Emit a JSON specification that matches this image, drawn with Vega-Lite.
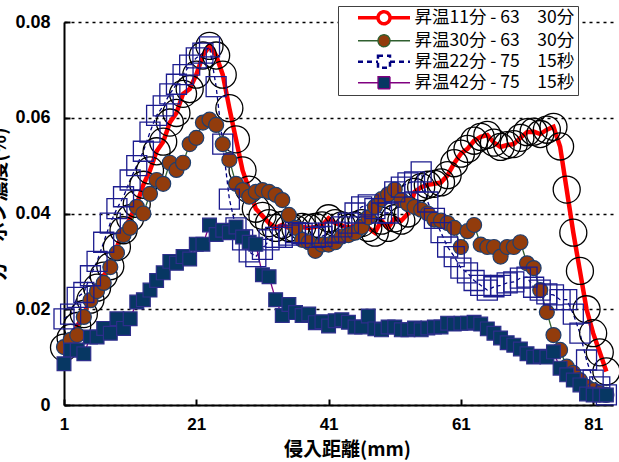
{
"$schema": "https://vega.github.io/schema/vega-lite/v6.json",
"width": 549,
"height": 383,
"autosize": {"type": "none"},
"padding": {"left": 64, "top": 22, "right": 6, "bottom": 57},
"background": "#ffffff",
"config": {
 "view": {"stroke": null},
 "axis": {
  "domainColor": "#000000", "domainWidth": 2,
  "tickColor": "#000000", "tickWidth": 2, "tickSize": -6,
  "labelFont": "Liberation Sans", "labelFontWeight": "bold", "labelFontSize": 18, "labelColor": "#000000",
  "labelFlush": false, "labelOverlap": false,
  "titleFont": "Noto Sans CJK JP", "titleFontWeight": "bold", "titleFontSize": 20, "titleColor": "#000000"
 }
},
"data": {"values": [
{"s":"昇温11分 - 63　30分","x":1,"y":0.012},{"s":"昇温11分 - 63　30分","x":2,"y":0.014},{"s":"昇温11分 - 63　30分","x":3,"y":0.0165},{"s":"昇温11分 - 63　30分","x":4,"y":0.019},{"s":"昇温11分 - 63　30分","x":5,"y":0.022},{"s":"昇温11分 - 63　30分","x":6,"y":0.0245},{"s":"昇温11分 - 63　30分","x":7,"y":0.027},{"s":"昇温11分 - 63　30分","x":8,"y":0.029},{"s":"昇温11分 - 63　30分","x":9,"y":0.033},{"s":"昇温11分 - 63　30分","x":10,"y":0.0365},
{"s":"昇温11分 - 63　30分","x":11,"y":0.039},{"s":"昇温11分 - 63　30分","x":12,"y":0.042},{"s":"昇温11分 - 63　30分","x":13,"y":0.046},{"s":"昇温11分 - 63　30分","x":14,"y":0.049},{"s":"昇温11分 - 63　30分","x":15,"y":0.053},{"s":"昇温11分 - 63　30分","x":16,"y":0.055},{"s":"昇温11分 - 63　30分","x":17,"y":0.059},{"s":"昇温11分 - 63　30分","x":18,"y":0.061},{"s":"昇温11分 - 63　30分","x":19,"y":0.065},{"s":"昇温11分 - 63　30分","x":20,"y":0.066},
{"s":"昇温11分 - 63　30分","x":21,"y":0.069},{"s":"昇温11分 - 63　30分","x":22,"y":0.073},{"s":"昇温11分 - 63　30分","x":23,"y":0.075},{"s":"昇温11分 - 63　30分","x":24,"y":0.073},{"s":"昇温11分 - 63　30分","x":25,"y":0.069},{"s":"昇温11分 - 63　30分","x":26,"y":0.062},{"s":"昇温11分 - 63　30分","x":27,"y":0.0555},{"s":"昇温11分 - 63　30分","x":28,"y":0.049},{"s":"昇温11分 - 63　30分","x":29,"y":0.045},{"s":"昇温11分 - 63　30分","x":30,"y":0.041},
{"s":"昇温11分 - 63　30分","x":31,"y":0.0395},{"s":"昇温11分 - 63　30分","x":32,"y":0.038},{"s":"昇温11分 - 63　30分","x":33,"y":0.037},{"s":"昇温11分 - 63　30分","x":34,"y":0.0376},{"s":"昇温11分 - 63　30分","x":35,"y":0.037},{"s":"昇温11分 - 63　30分","x":36,"y":0.0368},{"s":"昇温11分 - 63　30分","x":37,"y":0.0372},{"s":"昇温11分 - 63　30分","x":38,"y":0.037},{"s":"昇温11分 - 63　30分","x":39,"y":0.0372},{"s":"昇温11分 - 63　30分","x":40,"y":0.0375},
{"s":"昇温11分 - 63　30分","x":41,"y":0.039},{"s":"昇温11分 - 63　30分","x":42,"y":0.038},{"s":"昇温11分 - 63　30分","x":43,"y":0.0375},{"s":"昇温11分 - 63　30分","x":44,"y":0.037},{"s":"昇温11分 - 63　30分","x":45,"y":0.0375},{"s":"昇温11分 - 63　30分","x":46,"y":0.038},{"s":"昇温11分 - 63　30分","x":47,"y":0.037},{"s":"昇温11分 - 63　30分","x":48,"y":0.036},{"s":"昇温11分 - 63　30分","x":49,"y":0.0385},{"s":"昇温11分 - 63　30分","x":50,"y":0.037},
{"s":"昇温11分 - 63　30分","x":51,"y":0.039},{"s":"昇温11分 - 63　30分","x":52,"y":0.0385},{"s":"昇温11分 - 63　30分","x":53,"y":0.04},{"s":"昇温11分 - 63　30分","x":54,"y":0.0445},{"s":"昇温11分 - 63　30分","x":55,"y":0.0455},{"s":"昇温11分 - 63　30分","x":56,"y":0.046},{"s":"昇温11分 - 63　30分","x":57,"y":0.0462},{"s":"昇温11分 - 63　30分","x":58,"y":0.0465},{"s":"昇温11分 - 63　30分","x":59,"y":0.048},{"s":"昇温11分 - 63　30分","x":60,"y":0.0505},
{"s":"昇温11分 - 63　30分","x":61,"y":0.0525},{"s":"昇温11分 - 63　30分","x":62,"y":0.0535},{"s":"昇温11分 - 63　30分","x":63,"y":0.0552},{"s":"昇温11分 - 63　30分","x":64,"y":0.056},{"s":"昇温11分 - 63　30分","x":65,"y":0.0564},{"s":"昇温11分 - 63　30分","x":66,"y":0.0548},{"s":"昇温11分 - 63　30分","x":67,"y":0.0539},{"s":"昇温11分 - 63　30分","x":68,"y":0.0543},{"s":"昇温11分 - 63　30分","x":69,"y":0.0545},{"s":"昇温11分 - 63　30分","x":70,"y":0.0558},
{"s":"昇温11分 - 63　30分","x":71,"y":0.057},{"s":"昇温11分 - 63　30分","x":72,"y":0.0571},{"s":"昇温11分 - 63　30分","x":73,"y":0.0566},{"s":"昇温11分 - 63　30分","x":74,"y":0.0575},{"s":"昇温11分 - 63　30分","x":75,"y":0.0581},{"s":"昇温11分 - 63　30分","x":76,"y":0.054},{"s":"昇温11分 - 63　30分","x":77,"y":0.045},{"s":"昇温11分 - 63　30分","x":78,"y":0.036},{"s":"昇温11分 - 63　30分","x":79,"y":0.028},{"s":"昇温11分 - 63　30分","x":80,"y":0.02},
{"s":"昇温11分 - 63　30分","x":81,"y":0.015},{"s":"昇温11分 - 63　30分","x":82,"y":0.011},{"s":"昇温11分 - 63　30分","x":83,"y":0.007},
{"s":"昇温30分 - 63　30分","x":1,"y":0.0121},{"s":"昇温30分 - 63　30分","x":2,"y":0.0136},{"s":"昇温30分 - 63　30分","x":3,"y":0.0146},{"s":"昇温30分 - 63　30分","x":4,"y":0.0184},{"s":"昇温30分 - 63　30分","x":5,"y":0.0219},{"s":"昇温30分 - 63　30分","x":6,"y":0.0238},{"s":"昇温30分 - 63　30分","x":7,"y":0.0255},{"s":"昇温30分 - 63　30分","x":8,"y":0.0288},{"s":"昇温30分 - 63　30分","x":9,"y":0.0318},{"s":"昇温30分 - 63　30分","x":10,"y":0.0355},
{"s":"昇温30分 - 63　30分","x":11,"y":0.037},{"s":"昇温30分 - 63　30分","x":12,"y":0.0414},{"s":"昇温30分 - 63　30分","x":13,"y":0.04},{"s":"昇温30分 - 63　30分","x":14,"y":0.0441},{"s":"昇温30分 - 63　30分","x":15,"y":0.047},{"s":"昇温30分 - 63　30分","x":16,"y":0.0462},{"s":"昇温30分 - 63　30分","x":17,"y":0.0506},{"s":"昇温30分 - 63　30分","x":18,"y":0.0491},{"s":"昇温30分 - 63　30分","x":19,"y":0.0506},{"s":"昇温30分 - 63　30分","x":20,"y":0.0545},
{"s":"昇温30分 - 63　30分","x":21,"y":0.0558},{"s":"昇温30分 - 63　30分","x":22,"y":0.059},{"s":"昇温30分 - 63　30分","x":23,"y":0.0596},{"s":"昇温30分 - 63　30分","x":24,"y":0.0585},{"s":"昇温30分 - 63　30分","x":25,"y":0.0545},{"s":"昇温30分 - 63　30分","x":26,"y":0.0512},{"s":"昇温30分 - 63　30分","x":27,"y":0.0462},{"s":"昇温30分 - 63　30分","x":28,"y":0.0449},{"s":"昇温30分 - 63　30分","x":29,"y":0.0435},{"s":"昇温30分 - 63　30分","x":30,"y":0.0445},
{"s":"昇温30分 - 63　30分","x":31,"y":0.0449},{"s":"昇温30分 - 63　30分","x":32,"y":0.0445},{"s":"昇温30分 - 63　30分","x":33,"y":0.0439},{"s":"昇温30分 - 63　30分","x":34,"y":0.0428},{"s":"昇温30分 - 63　30分","x":35,"y":0.0397},{"s":"昇温30分 - 63　30分","x":36,"y":0.037},{"s":"昇温30分 - 63　30分","x":37,"y":0.0345},{"s":"昇温30分 - 63　30分","x":38,"y":0.034},{"s":"昇温30分 - 63　30分","x":39,"y":0.0322},{"s":"昇温30分 - 63　30分","x":40,"y":0.0335},
{"s":"昇温30分 - 63　30分","x":41,"y":0.0335},{"s":"昇温30分 - 63　30分","x":42,"y":0.034},{"s":"昇温30分 - 63　30分","x":43,"y":0.0352},{"s":"昇温30分 - 63　30分","x":44,"y":0.0355},{"s":"昇温30分 - 63　30分","x":45,"y":0.036},{"s":"昇温30分 - 63　30分","x":46,"y":0.0372},{"s":"昇温30分 - 63　30分","x":47,"y":0.0392},{"s":"昇温30分 - 63　30分","x":48,"y":0.0414},{"s":"昇温30分 - 63　30分","x":49,"y":0.043},{"s":"昇温30分 - 63　30分","x":50,"y":0.044},
{"s":"昇温30分 - 63　30分","x":51,"y":0.045},{"s":"昇温30分 - 63　30分","x":52,"y":0.0428},{"s":"昇温30分 - 63　30分","x":53,"y":0.042},{"s":"昇温30分 - 63　30分","x":54,"y":0.0414},{"s":"昇温30分 - 63　30分","x":55,"y":0.0408},{"s":"昇温30分 - 63　30分","x":56,"y":0.04},{"s":"昇温30分 - 63　30分","x":57,"y":0.0387},{"s":"昇温30分 - 63　30分","x":58,"y":0.0385},{"s":"昇温30分 - 63　30分","x":59,"y":0.038},{"s":"昇温30分 - 63　30分","x":60,"y":0.037},
{"s":"昇温30分 - 63　30分","x":61,"y":0.033},{"s":"昇温30分 - 63　30分","x":62,"y":0.0363},{"s":"昇温30分 - 63　30分","x":63,"y":0.0376},{"s":"昇温30分 - 63　30分","x":64,"y":0.0335},{"s":"昇温30分 - 63　30分","x":65,"y":0.033},{"s":"昇温30分 - 63　30分","x":66,"y":0.033},{"s":"昇温30分 - 63　30分","x":67,"y":0.031},{"s":"昇温30分 - 63　30分","x":68,"y":0.033},{"s":"昇温30分 - 63　30分","x":69,"y":0.033},{"s":"昇温30分 - 63　30分","x":70,"y":0.034},
{"s":"昇温30分 - 63　30分","x":71,"y":0.0296},{"s":"昇温30分 - 63　30分","x":72,"y":0.0286},{"s":"昇温30分 - 63　30分","x":73,"y":0.024},{"s":"昇温30分 - 63　30分","x":74,"y":0.0194},{"s":"昇温30分 - 63　30分","x":75,"y":0.0146},{"s":"昇温30分 - 63　30分","x":76,"y":0.0115},{"s":"昇温30分 - 63　30分","x":77,"y":0.008},{"s":"昇温30分 - 63　30分","x":78,"y":0.0067},{"s":"昇温30分 - 63　30分","x":79,"y":0.0052},{"s":"昇温30分 - 63　30分","x":80,"y":0.0038},
{"s":"昇温30分 - 63　30分","x":81,"y":0.0031},{"s":"昇温30分 - 63　30分","x":82,"y":0.0025},{"s":"昇温30分 - 63　30分","x":83,"y":0.0021},
{"s":"昇温22分 - 75　15秒","x":1,"y":0.018},{"s":"昇温22分 - 75　15秒","x":2,"y":0.019},{"s":"昇温22分 - 75　15秒","x":3,"y":0.0225},{"s":"昇温22分 - 75　15秒","x":4,"y":0.0235},{"s":"昇温22分 - 75　15秒","x":5,"y":0.027},{"s":"昇温22分 - 75　15秒","x":6,"y":0.03},{"s":"昇温22分 - 75　15秒","x":7,"y":0.034},{"s":"昇温22分 - 75　15秒","x":8,"y":0.038},{"s":"昇温22分 - 75　15秒","x":9,"y":0.041},{"s":"昇温22分 - 75　15秒","x":10,"y":0.0435},
{"s":"昇温22分 - 75　15秒","x":11,"y":0.047},{"s":"昇温22分 - 75　15秒","x":12,"y":0.05},{"s":"昇温22分 - 75　15秒","x":13,"y":0.053},{"s":"昇温22分 - 75　15秒","x":14,"y":0.057},{"s":"昇温22分 - 75　15秒","x":15,"y":0.0605},{"s":"昇温22分 - 75　15秒","x":16,"y":0.0625},{"s":"昇温22分 - 75　15秒","x":17,"y":0.065},{"s":"昇温22分 - 75　15秒","x":18,"y":0.067},{"s":"昇温22分 - 75　15秒","x":19,"y":0.069},{"s":"昇温22分 - 75　15秒","x":20,"y":0.071},
{"s":"昇温22分 - 75　15秒","x":21,"y":0.0725},{"s":"昇温22分 - 75　15秒","x":22,"y":0.0735},{"s":"昇温22分 - 75　15秒","x":23,"y":0.0748},{"s":"昇温22分 - 75　15秒","x":24,"y":0.0665},{"s":"昇温22分 - 75　15秒","x":25,"y":0.0545},{"s":"昇温22分 - 75　15秒","x":26,"y":0.043},{"s":"昇温22分 - 75　15秒","x":27,"y":0.037},{"s":"昇温22分 - 75　15秒","x":28,"y":0.0345},{"s":"昇温22分 - 75　15秒","x":29,"y":0.032},{"s":"昇温22分 - 75　15秒","x":30,"y":0.031},
{"s":"昇温22分 - 75　15秒","x":31,"y":0.0325},{"s":"昇温22分 - 75　15秒","x":32,"y":0.0345},{"s":"昇温22分 - 75　15秒","x":33,"y":0.035},{"s":"昇温22分 - 75　15秒","x":34,"y":0.035},{"s":"昇温22分 - 75　15秒","x":35,"y":0.0355},{"s":"昇温22分 - 75　15秒","x":36,"y":0.036},{"s":"昇温22分 - 75　15秒","x":37,"y":0.0358},{"s":"昇温22分 - 75　15秒","x":38,"y":0.0359},{"s":"昇温22分 - 75　15秒","x":39,"y":0.035},{"s":"昇温22分 - 75　15秒","x":40,"y":0.0352},
{"s":"昇温22分 - 75　15秒","x":41,"y":0.0359},{"s":"昇温22分 - 75　15秒","x":42,"y":0.0361},{"s":"昇温22分 - 75　15秒","x":43,"y":0.0372},{"s":"昇温22分 - 75　15秒","x":44,"y":0.038},{"s":"昇温22分 - 75　15秒","x":45,"y":0.0401},{"s":"昇温22分 - 75　15秒","x":46,"y":0.0414},{"s":"昇温22分 - 75　15秒","x":47,"y":0.0418},{"s":"昇温22分 - 75　15秒","x":48,"y":0.041},{"s":"昇温22分 - 75　15秒","x":49,"y":0.0401},{"s":"昇温22分 - 75　15秒","x":50,"y":0.0401},
{"s":"昇温22分 - 75　15秒","x":51,"y":0.0445},{"s":"昇温22分 - 75　15秒","x":52,"y":0.0455},{"s":"昇温22分 - 75　15秒","x":53,"y":0.0464},{"s":"昇温22分 - 75　15秒","x":54,"y":0.0466},{"s":"昇温22分 - 75　15秒","x":55,"y":0.0487},{"s":"昇温22分 - 75　15秒","x":56,"y":0.0424},{"s":"昇温22分 - 75　15秒","x":57,"y":0.039},{"s":"昇温22分 - 75　15秒","x":58,"y":0.036},{"s":"昇温22分 - 75　15秒","x":59,"y":0.033},{"s":"昇温22分 - 75　15秒","x":60,"y":0.031},
{"s":"昇温22分 - 75　15秒","x":61,"y":0.0286},{"s":"昇温22分 - 75　15秒","x":62,"y":0.0276},{"s":"昇温22分 - 75　15秒","x":63,"y":0.026},{"s":"昇温22分 - 75　15秒","x":64,"y":0.025},{"s":"昇温22分 - 75　15秒","x":65,"y":0.024},{"s":"昇温22分 - 75　15秒","x":66,"y":0.0247},{"s":"昇温22分 - 75　15秒","x":67,"y":0.025},{"s":"昇温22分 - 75　15秒","x":68,"y":0.0255},{"s":"昇温22分 - 75　15秒","x":69,"y":0.0257},{"s":"昇温22分 - 75　15秒","x":70,"y":0.0265},
{"s":"昇温22分 - 75　15秒","x":71,"y":0.0267},{"s":"昇温22分 - 75　15秒","x":72,"y":0.0246},{"s":"昇温22分 - 75　15秒","x":73,"y":0.024},{"s":"昇温22分 - 75　15秒","x":74,"y":0.0232},{"s":"昇温22分 - 75　15秒","x":75,"y":0.023},{"s":"昇温22分 - 75　15秒","x":76,"y":0.022},{"s":"昇温22分 - 75　15秒","x":77,"y":0.022},{"s":"昇温22分 - 75　15秒","x":78,"y":0.019},{"s":"昇温22分 - 75　15秒","x":79,"y":0.015},{"s":"昇温22分 - 75　15秒","x":80,"y":0.0094},
{"s":"昇温22分 - 75　15秒","x":81,"y":0.0052},{"s":"昇温22分 - 75　15秒","x":82,"y":0.0038},{"s":"昇温22分 - 75　15秒","x":83,"y":0.0021},
{"s":"昇温42分 - 75　15秒","x":1,"y":0.0086},{"s":"昇温42分 - 75　15秒","x":2,"y":0.0115},{"s":"昇温42分 - 75　15秒","x":3,"y":0.0115},{"s":"昇温42分 - 75　15秒","x":4,"y":0.0107},{"s":"昇温42分 - 75　15秒","x":5,"y":0.0142},{"s":"昇温42分 - 75　15秒","x":6,"y":0.0142},{"s":"昇温42分 - 75　15秒","x":7,"y":0.016},{"s":"昇温42分 - 75　15秒","x":8,"y":0.015},{"s":"昇温42分 - 75　15秒","x":9,"y":0.018},{"s":"昇温42分 - 75　15秒","x":10,"y":0.016},
{"s":"昇温42分 - 75　15秒","x":11,"y":0.018},{"s":"昇温42分 - 75　15秒","x":12,"y":0.0215},{"s":"昇温42分 - 75　15秒","x":13,"y":0.022},{"s":"昇温42分 - 75　15秒","x":14,"y":0.024},{"s":"昇温42分 - 75　15秒","x":15,"y":0.026},{"s":"昇温42分 - 75　15秒","x":16,"y":0.0276},{"s":"昇温42分 - 75　15秒","x":17,"y":0.03},{"s":"昇温42分 - 75　15秒","x":18,"y":0.0296},{"s":"昇温42分 - 75　15秒","x":19,"y":0.031},{"s":"昇温42分 - 75　15秒","x":20,"y":0.0305},
{"s":"昇温42分 - 75　15秒","x":21,"y":0.0336},{"s":"昇温42分 - 75　15秒","x":22,"y":0.0336},{"s":"昇温42分 - 75　15秒","x":23,"y":0.0376},{"s":"昇温42分 - 75　15秒","x":24,"y":0.0356},{"s":"昇温42分 - 75　15秒","x":25,"y":0.0365},{"s":"昇温42分 - 75　15秒","x":26,"y":0.036},{"s":"昇温42分 - 75　15秒","x":27,"y":0.0372},{"s":"昇温42分 - 75　15秒","x":28,"y":0.0351},{"s":"昇温42分 - 75　15秒","x":29,"y":0.034},{"s":"昇温42分 - 75　15秒","x":30,"y":0.0336},
{"s":"昇温42分 - 75　15秒","x":31,"y":0.0272},{"s":"昇温42分 - 75　15秒","x":32,"y":0.0268},{"s":"昇温42分 - 75　15秒","x":33,"y":0.022},{"s":"昇温42分 - 75　15秒","x":34,"y":0.0187},{"s":"昇温42分 - 75　15秒","x":35,"y":0.021},{"s":"昇温42分 - 75　15秒","x":36,"y":0.0193},{"s":"昇温42分 - 75　15秒","x":37,"y":0.0187},{"s":"昇温42分 - 75　15秒","x":38,"y":0.019},{"s":"昇温42分 - 75　15秒","x":39,"y":0.0172},{"s":"昇温42分 - 75　15秒","x":40,"y":0.0174},
{"s":"昇温42分 - 75　15秒","x":41,"y":0.0165},{"s":"昇温42分 - 75　15秒","x":42,"y":0.0176},{"s":"昇温42分 - 75　15秒","x":43,"y":0.0178},{"s":"昇温42分 - 75　15秒","x":44,"y":0.0173},{"s":"昇温42分 - 75　15秒","x":45,"y":0.0163},{"s":"昇温42分 - 75　15秒","x":46,"y":0.0163},{"s":"昇温42分 - 75　15秒","x":47,"y":0.0186},{"s":"昇温42分 - 75　15秒","x":48,"y":0.0159},{"s":"昇温42分 - 75　15秒","x":49,"y":0.0157},{"s":"昇温42分 - 75　15秒","x":50,"y":0.0163},
{"s":"昇温42分 - 75　15秒","x":51,"y":0.0163},{"s":"昇温42分 - 75　15秒","x":52,"y":0.0157},{"s":"昇温42分 - 75　15秒","x":53,"y":0.0157},{"s":"昇温42分 - 75　15秒","x":54,"y":0.0161},{"s":"昇温42分 - 75　15秒","x":55,"y":0.0157},{"s":"昇温42分 - 75　15秒","x":56,"y":0.0161},{"s":"昇温42分 - 75　15秒","x":57,"y":0.0163},{"s":"昇温42分 - 75　15秒","x":58,"y":0.0163},{"s":"昇温42分 - 75　15秒","x":59,"y":0.0171},{"s":"昇温42分 - 75　15秒","x":60,"y":0.0169},
{"s":"昇温42分 - 75　15秒","x":61,"y":0.0171},{"s":"昇温42分 - 75　15秒","x":62,"y":0.0171},{"s":"昇温42分 - 75　15秒","x":63,"y":0.0173},{"s":"昇温42分 - 75　15秒","x":64,"y":0.0169},{"s":"昇温42分 - 75　15秒","x":65,"y":0.0159},{"s":"昇温42分 - 75　15秒","x":66,"y":0.015},{"s":"昇温42分 - 75　15秒","x":67,"y":0.014},{"s":"昇温42分 - 75　15秒","x":68,"y":0.013},{"s":"昇温42分 - 75　15秒","x":69,"y":0.0125},{"s":"昇温42分 - 75　15秒","x":70,"y":0.0117},
{"s":"昇温42分 - 75　15秒","x":71,"y":0.0107},{"s":"昇温42分 - 75　15秒","x":72,"y":0.01},{"s":"昇温42分 - 75　15秒","x":73,"y":0.0102},{"s":"昇温42分 - 75　15秒","x":74,"y":0.01},{"s":"昇温42分 - 75　15秒","x":75,"y":0.0111},{"s":"昇温42分 - 75　15秒","x":76,"y":0.0077},{"s":"昇温42分 - 75　15秒","x":77,"y":0.0063},{"s":"昇温42分 - 75　15秒","x":78,"y":0.0052},{"s":"昇温42分 - 75　15秒","x":79,"y":0.0042},{"s":"昇温42分 - 75　15秒","x":80,"y":0.0023},
{"s":"昇温42分 - 75　15秒","x":81,"y":0.0021},{"s":"昇温42分 - 75　15秒","x":82,"y":0.0021},{"s":"昇温42分 - 75　15秒","x":83,"y":0.0021}
]},
"encoding": {
 "x": {"field": "x", "type": "quantitative", "scale": {"domain": [1, 84], "nice": false, "zero": false},
  "axis": {"values": [1, 21, 41, 61, 81], "grid": false, "title": "侵入距離(mm)", "labelPadding": 17, "labelFontSize": 17, "titleFontSize": 19, "titleX": 283, "titleY": 44, "titleBaseline": "middle"}},
 "y": {"field": "y", "type": "quantitative", "scale": {"domain": [0, 0.08], "nice": false},
  "axis": {"values": [0, 0.02, 0.04, 0.06, 0.08], "labelExpr": "datum.value == 0 ? '0' : format(datum.value, '.2f')", "grid": true, "gridColor": "#000000", "gridDash": [3, 4], "gridWidth": 1.5, "labelPadding": 20, "title": "カーボン濃度(%)", "titleX": -65, "titleY": 182, "titleBaseline": "middle", "titleAngle": 270}}
},
"layer": [
 {
  "transform": [{"filter": {"field": "s", "equal": "昇温11分 - 63　30分"}}],
  "mark": {"type": "line", "strokeWidth": 4.5},
  "encoding": {
   "color": {"field": "s", "type": "nominal", "sort": ["昇温11分 - 63　30分", "昇温30分 - 63　30分", "昇温22分 - 75　15秒", "昇温42分 - 75　15秒"],
    "scale": {"range": ["#ff0000", "#2f5f2f", "#000080", "#800080"]},
    "legend": {"orient": "none", "legendX": 274, "legendY": -16, "title": null, "symbolType": "M-13,0H13", "symbolSize": 16, "symbolStrokeWidth": 1.3, "labelFont": "Noto Sans CJK JP", "labelFontSize": 17.5, "labelColor": "#000000", "labelOffset": 56, "labelLimit": 400, "padding": 3, "rowPadding": 0, "strokeColor": "#404040", "fillColor": "#ffffff",
     "encode": {"symbols": {"update": {
      "x": {"value": 43},
      "shape": {"signal": "datum.value === '昇温11分 - 63　30分' || datum.value === '昇温30分 - 63　30分' ? 'M-13,0H-3M3,0H13M-3,0A3,3 0 1 0 3,0A3,3 0 1 0 -3,0Z' : 'M-13,0H-3M3,0H13M-3,-3H3V3H-3Z'"},
      "fill": {"signal": "datum.value === '昇温30分 - 63　30分' ? '#923c0c' : datum.value === '昇温42分 - 75　15秒' ? '#073763' : '#ffffff'"},
      "strokeWidth": {"signal": "datum.value === '昇温11分 - 63　30分' ? 3.5 : datum.value === '昇温22分 - 75　15秒' ? 2.5 : 1.3"},
      "strokeDash": {"signal": "datum.value === '昇温22分 - 75　15秒' ? [5, 4] : [1, 0]"}}}}}}
  }
 },
 {
  "transform": [{"filter": {"not": {"field": "s", "equal": "昇温11分 - 63　30分"}}}],
  "mark": {"type": "line", "strokeWidth": 1.3},
  "encoding": {
   "color": {"field": "s", "type": "nominal", "sort": ["昇温11分 - 63　30分", "昇温30分 - 63　30分", "昇温22分 - 75　15秒", "昇温42分 - 75　15秒"],
    "scale": {"range": ["#ff0000", "#2f5f2f", "#000080", "#800080"]}},
   "strokeDash": {"field": "s", "type": "nominal",
    "scale": {"domain": ["昇温11分 - 63　30分", "昇温30分 - 63　30分", "昇温22分 - 75　15秒", "昇温42分 - 75　15秒"], "range": [[1, 0], [1, 0], [4, 3], [1, 0]]}, "legend": null}
  }
 },
 {
  "transform": [{"filter": {"field": "s", "equal": "昇温11分 - 63　30分"}}],
  "mark": {"type": "point", "shape": "circle", "size": 730, "filled": false, "stroke": "#000000", "strokeWidth": 1.3, "opacity": 1}
 },
 {
  "transform": [{"filter": {"field": "s", "equal": "昇温30分 - 63　30分"}}],
  "mark": {"type": "point", "shape": "circle", "size": 225, "filled": true, "fill": "#923c0c", "stroke": "#1f3f6f", "strokeWidth": 1.2, "opacity": 1}
 },
 {
  "transform": [{"filter": {"field": "s", "equal": "昇温22分 - 75　15秒"}}],
  "mark": {"type": "point", "shape": "square", "size": 400, "filled": false, "stroke": "#1c1c8f", "strokeWidth": 1.3, "opacity": 1}
 },
 {
  "transform": [{"filter": {"field": "s", "equal": "昇温42分 - 75　15秒"}}],
  "mark": {"type": "point", "shape": "square", "size": 190, "filled": true, "fill": "#073763", "stroke": "#2e2e8c", "strokeWidth": 1.2, "opacity": 1}
 }
]
}
